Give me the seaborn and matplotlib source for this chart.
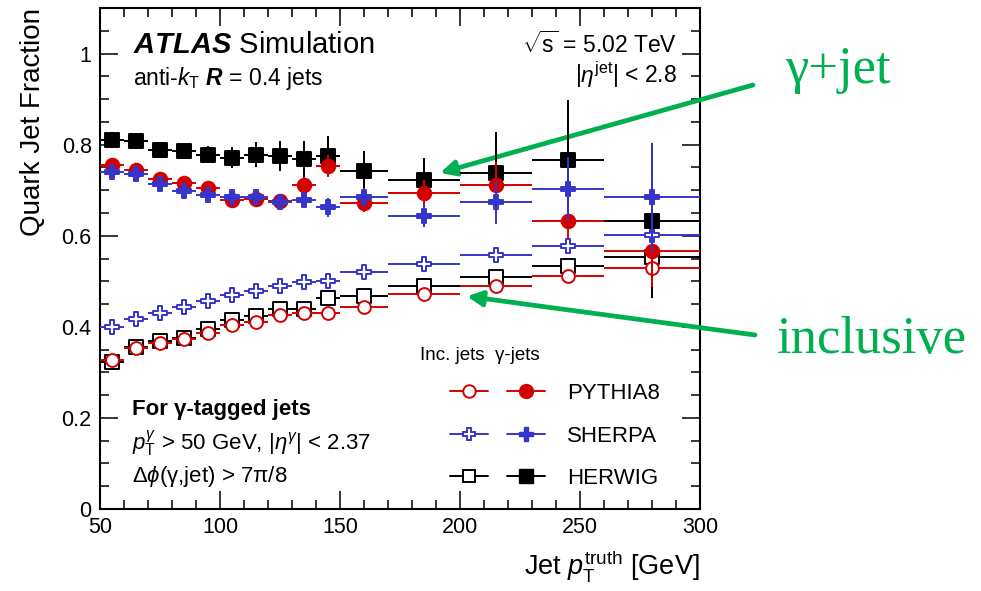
import numpy as np
import pandas as pd
import matplotlib
matplotlib.use("Agg")
import matplotlib.pyplot as plt
import seaborn as sns
from matplotlib.lines import Line2D
from matplotlib.legend_handler import HandlerTuple
from matplotlib.ticker import MultipleLocator, FuncFormatter

# ---------------- data ----------------
pt_center = [55, 65, 75, 85, 95, 105, 115, 125, 135, 145, 160, 185, 215, 245, 280]
bin_low = [50, 60, 70, 80, 90, 100, 110, 120, 130, 140, 150, 170, 200, 230, 260]
bin_high = [60, 70, 80, 90, 100, 110, 120, 130, 140, 150, 170, 200, 230, 260, 300]

inc_pythia = [0.327, 0.353, 0.364, 0.373, 0.387, 0.404, 0.411, 0.427, 0.431, 0.431, 0.444, 0.471, 0.489, 0.511, 0.529]
inc_sherpa = [0.400, 0.418, 0.431, 0.444, 0.456, 0.469, 0.478, 0.489, 0.498, 0.500, 0.520, 0.538, 0.558, 0.578, 0.602]
inc_herwig = [0.322, 0.356, 0.369, 0.376, 0.396, 0.416, 0.424, 0.440, 0.440, 0.464, 0.467, 0.489, 0.509, 0.533, 0.553]
inc_err = [0.004, 0.004, 0.004, 0.004, 0.004, 0.004, 0.004, 0.005, 0.005, 0.005, 0.005, 0.006, 0.007, 0.008, 0.010]

gam_pythia = [0.756, 0.745, 0.724, 0.716, 0.704, 0.678, 0.680, 0.676, 0.711, 0.753, 0.671, 0.693, 0.711, 0.633, 0.567]
gam_pythia_err = [0.008, 0.009, 0.010, 0.011, 0.012, 0.013, 0.014, 0.015, 0.018, 0.025, 0.020, 0.030, 0.050, 0.040, 0.080]
gam_sherpa = [0.740, 0.736, 0.713, 0.698, 0.689, 0.684, 0.684, 0.673, 0.678, 0.662, 0.684, 0.644, 0.673, 0.702, 0.684]
gam_sherpa_err = [0.008, 0.009, 0.010, 0.011, 0.012, 0.013, 0.014, 0.015, 0.017, 0.020, 0.020, 0.024, 0.048, 0.070, 0.120]
gam_herwig = [0.811, 0.807, 0.789, 0.787, 0.778, 0.771, 0.778, 0.776, 0.769, 0.776, 0.742, 0.722, 0.738, 0.767, 0.633]
gam_herwig_err = [0.008, 0.010, 0.012, 0.014, 0.018, 0.023, 0.028, 0.033, 0.040, 0.043, 0.043, 0.049, 0.089, 0.130, 0.170]

generators = ["PYTHIA8", "SHERPA", "HERWIG"]
x_ticks = [50, 100, 150, 200, 250, 300]
y_ticks = [0, 0.2, 0.4, 0.6, 0.8, 1.0]

# ---------------- style ----------------
sns.set_style("ticks")
plt.rcParams["font.family"] = ["Liberation Sans", "DejaVu Sans"]
plt.rcParams["mathtext.fontset"] = "custom"
plt.rcParams["mathtext.rm"] = "Liberation Sans"
plt.rcParams["mathtext.it"] = "Liberation Sans:italic"
plt.rcParams["mathtext.bf"] = "Liberation Sans:italic:bold"
plt.rcParams["mathtext.sf"] = "Liberation Sans"
plt.rcParams["text.color"] = "black"
plt.rcParams["axes.labelcolor"] = "black"
plt.rcParams["xtick.color"] = "black"
plt.rcParams["ytick.color"] = "black"
plt.rcParams["axes.edgecolor"] = "black"

RED = "#d40000"
BLUE = "#3535cc"
BLACK = "#000000"
GREEN = "#00b050"

fig = plt.figure(figsize=(9.81, 5.91), dpi=100)
ax = fig.add_axes([100 / 981, 1 - 509 / 591, 600 / 981, 501 / 591])

x = np.array(pt_center, dtype=float)
xerr = [x - np.array(bin_low), np.array(bin_high) - x]

series = [
    # y, yerr, color, marker, filled, size, zorder
    (inc_herwig, inc_err, BLACK, "s", False, 95, 3),
    (inc_pythia, inc_err, RED, "o", False, 85, 4),
    (inc_sherpa, inc_err, BLUE, "P", False, 110, 5),
    (gam_herwig, gam_herwig_err, BLACK, "s", True, 110, 6),
    (gam_pythia, gam_pythia_err, RED, "o", True, 95, 7),
    (gam_sherpa, gam_sherpa_err, BLUE, "P", True, 110, 8),
]

for y, yerr, color, marker, filled, size, z in series:
    df = pd.DataFrame({"pt": x, "frac": y})
    ax.errorbar(df["pt"], df["frac"], yerr=yerr, xerr=xerr, fmt="none",
                ecolor=color, elinewidth=1.4, capsize=0, zorder=z)
    sns.scatterplot(data=df, x="pt", y="frac", ax=ax, marker=marker, s=size,
                    facecolor=(color if filled else "white"), edgecolor=color,
                    linewidth=1.4, zorder=z + 0.5, legend=False)

ax.set_xlim(50, 300)
ax.set_ylim(0, 1.1)
ax.set_xticks(x_ticks)
ax.set_yticks(y_ticks)
ax.xaxis.set_minor_locator(MultipleLocator(10))
ax.yaxis.set_minor_locator(MultipleLocator(0.05))
ax.yaxis.set_major_formatter(FuncFormatter(lambda v, p: f"{v:g}"))
ax.tick_params(which="both", direction="in", top=True, right=True, width=1.1, color="black")
ax.tick_params(which="major", length=13, labelsize=15.5, pad=6, labelcolor="black")
ax.tick_params(which="minor", length=6.5)
for s in ax.spines.values():
    s.set_linewidth(1.5)
    s.set_color("black")

ax.set_xlabel(r"Jet $p_{\mathrm{T}}^{\mathrm{truth}}$ [GeV]", fontsize=19.5, ha="right", x=1.0, labelpad=7)
ax.set_ylabel("Quark Jet Fraction", fontsize=20, ha="right", y=1.0, labelpad=11)

# ---------------- texts ----------------
def fx(px):
    return (px - 100) / 600

def fy(py):
    return 1 - (py - 8) / 501

ax.text(fx(133), fy(53), r"$\mathbf{ATLAS}$ Simulation", fontsize=21, transform=ax.transAxes, va="baseline")
ax.text(fx(133), fy(85), r"anti-$k_{\mathrm{T}}$ $\mathbf{R}$ = 0.4 jets", fontsize=16.5, transform=ax.transAxes, va="baseline")
ax.text(fx(677), fy(53), r"$\sqrt{\mathrm{s}}$ = 5.02 TeV", fontsize=16.5, transform=ax.transAxes, va="baseline", ha="right")
ax.text(fx(677), fy(83), r"|$\eta^{\mathrm{jet}}$| < 2.8", fontsize=16.5, transform=ax.transAxes, va="baseline", ha="right")
ax.text(fx(132), fy(415), "For γ-tagged jets", fontsize=16, fontweight="bold", transform=ax.transAxes, va="baseline")
ax.text(fx(132), fy(450), r"$p_{\mathrm{T}}^{\gamma}$ > 50 GeV, |$\eta^{\gamma}$| < 2.37", fontsize=16, transform=ax.transAxes, va="baseline")
ax.text(fx(132), fy(482), r"$\Delta\phi$(γ,jet) > 7π/8", fontsize=16, transform=ax.transAxes, va="baseline")
ax.text(fx(420), fy(360), "Inc. jets  γ-jets", fontsize=13.5, transform=ax.transAxes, va="baseline")

# ---------------- legend ----------------
colors = [RED, BLUE, BLACK]
markers = ["o", "P", "s"]
handles = []
for c, m in zip(colors, markers):
    h_inc = Line2D([], [], color=c, lw=1.4, marker=m, markersize=9, markerfacecolor="white", markeredgecolor=c, markeredgewidth=1.4)
    h_gam = Line2D([], [], color=c, lw=1.4, marker=m, markersize=10, markerfacecolor=c, markeredgecolor=c)
    handles.append((h_inc, h_gam))
ax.legend(handles, generators, handler_map={tuple: HandlerTuple(ndivide=None, pad=0.86)},
          loc="upper left", bbox_to_anchor=(fx(450), fy(383)), frameon=False, fontsize=16,
          handlelength=4.28, handletextpad=1.0, labelspacing=0.97, borderpad=0, borderaxespad=0)

# ---------------- green annotations ----------------
arrow_kw = dict(arrowstyle="-|>,head_length=0.9,head_width=0.45", color=GREEN, lw=3.4, shrinkA=0, shrinkB=0)
ax.annotate("", xy=(191.7, 0.738), xycoords="data", xytext=(753 / 981, 1 - 85 / 591), textcoords="figure fraction",
            arrowprops=arrow_kw, annotation_clip=False)
ax.annotate("", xy=(202.9, 0.467), xycoords="data", xytext=(755 / 981, 1 - 335 / 591), textcoords="figure fraction",
            arrowprops=arrow_kw, annotation_clip=False)
fig.text(785 / 981, 1 - 70 / 591, "γ+jet", fontsize=38, color=GREEN, family=["Liberation Serif", "DejaVu Serif"], va="center", ha="left")
fig.text(777 / 981, 1 - 340 / 591, "inclusive", fontsize=38, color=GREEN, family=["Liberation Serif", "DejaVu Serif"], va="center", ha="left")

fig.savefig("out.png", dpi=100)
